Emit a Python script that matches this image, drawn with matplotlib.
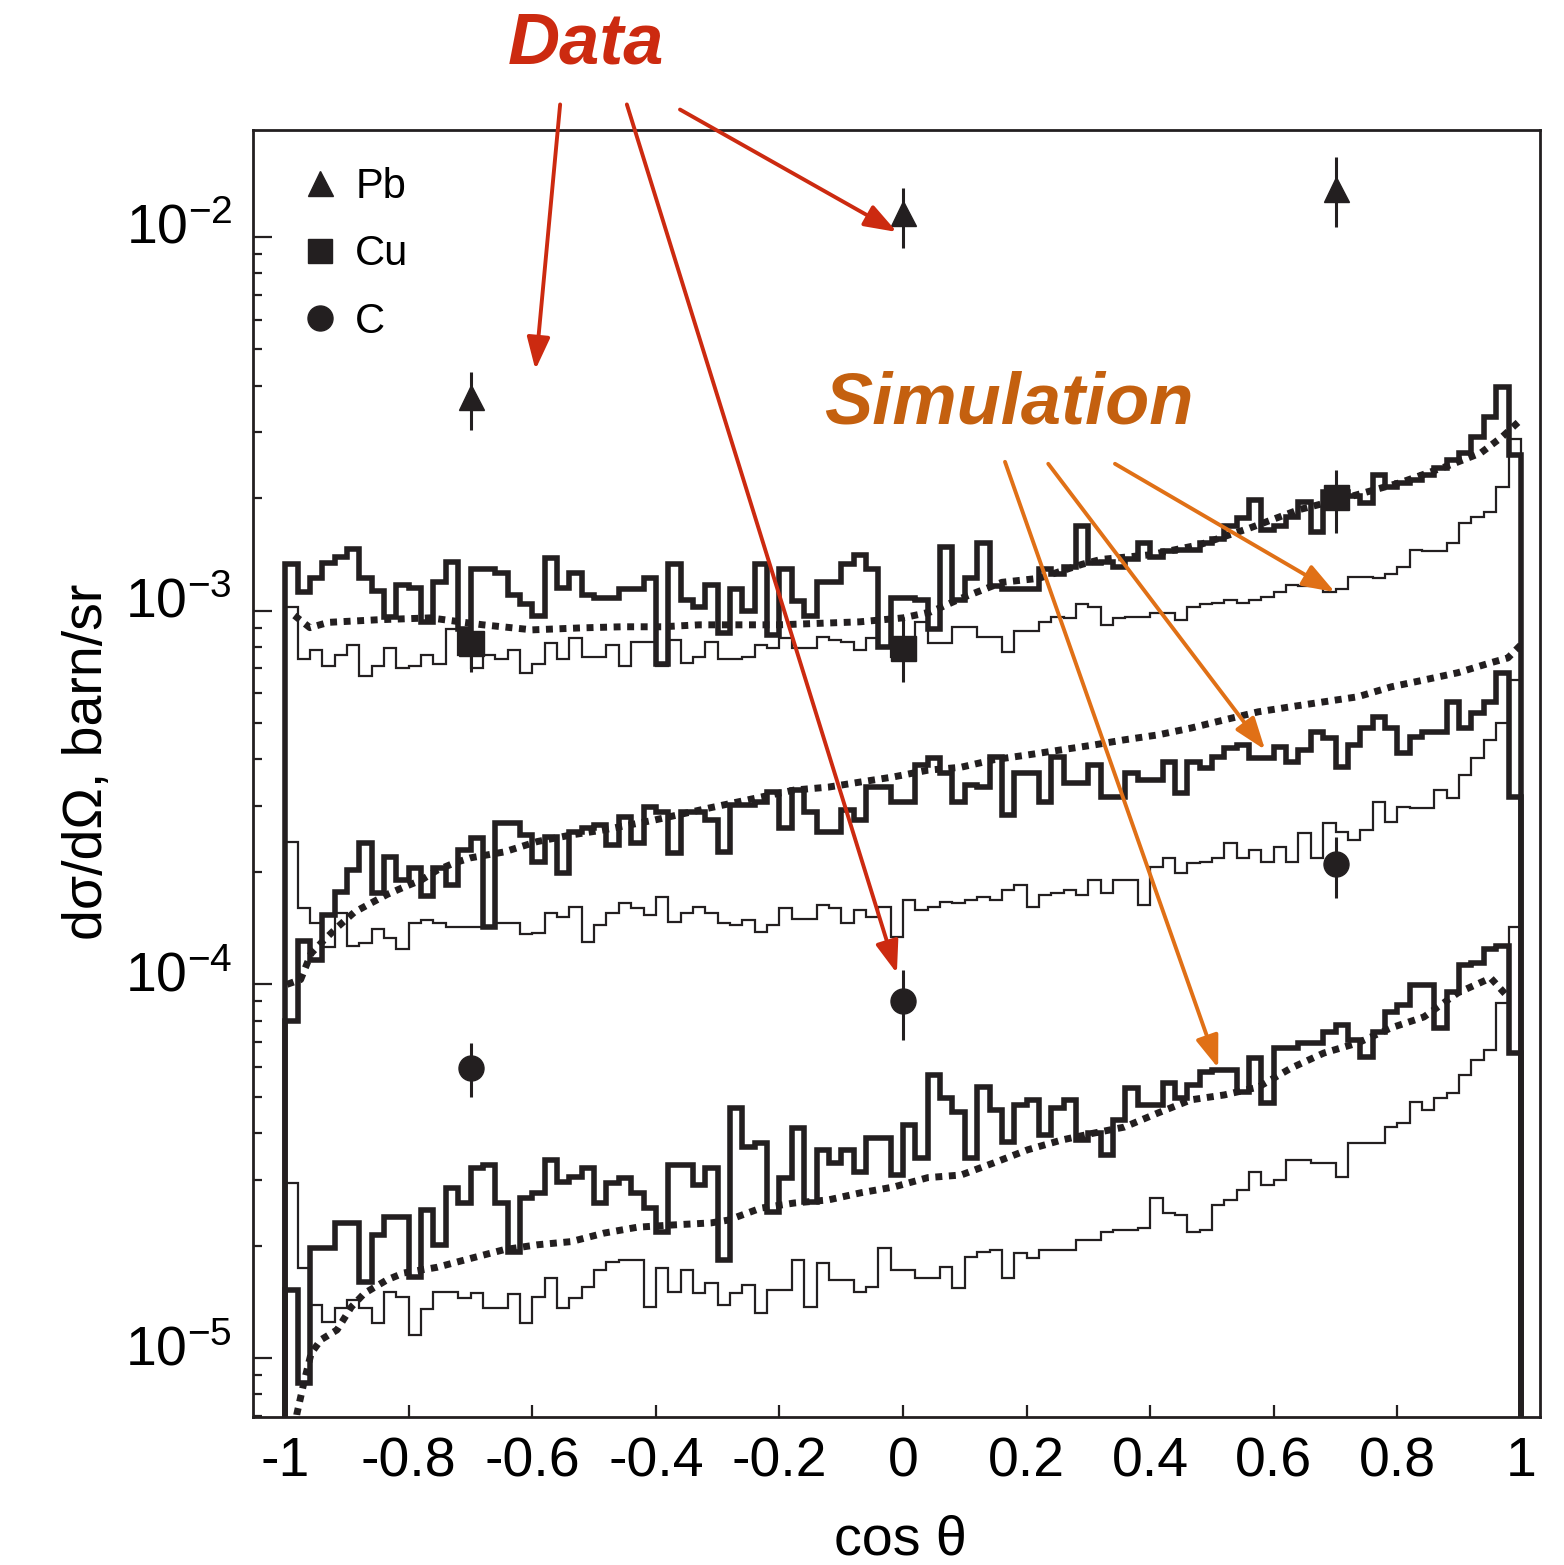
import numpy as np
import matplotlib
matplotlib.use('Agg')
import matplotlib.pyplot as plt
import matplotlib.transforms as mtransforms
from matplotlib.lines import Line2D
from matplotlib.ticker import FixedLocator, FixedFormatter, LogLocator, NullFormatter

plt.rcParams['font.family'] = ['Liberation Sans', 'DejaVu Sans']
plt.rcParams['mathtext.fontset'] = 'custom'
plt.rcParams['mathtext.rm'] = 'Liberation Sans'
plt.rcParams['mathtext.it'] = 'Liberation Sans:italic'
plt.rcParams['mathtext.bf'] = 'Liberation Sans:bold'

INK = '#231f20'
RED = '#cc2a10'
ORANGE = '#e07016'
ORANGE_TXT = '#c4600f'

# histogram binning in cos(theta): 100 bins of 0.02
bin_edges = np.round(np.arange(-1.0, 1.0001, 0.02), 2)

# Pb, thick histogram (units of 1e-3 barn/sr)
pb_thick = [1.33, 1.12, 1.22, 1.34, 1.39, 1.46, 1.22, 1.13, 0.96, 1.17,
            1.15, 0.93, 1.19, 1.35, 0.89, 1.29, 1.29, 1.26, 1.10, 1.04,
            0.97, 1.38, 1.15, 1.26, 1.10, 1.08, 1.08, 1.14, 1.14, 1.22,
            0.72, 1.33, 1.07, 1.02, 1.17, 0.87, 1.14, 1.00, 1.33, 0.86,
            1.29, 1.06, 0.97, 1.19, 1.19, 1.33, 1.41, 1.29, 0.80, 1.08,
            1.08, 1.07, 0.89, 1.48, 1.07, 1.22, 1.52, 1.16, 1.14, 1.14,
            1.14, 1.29, 1.25, 1.31, 1.68, 1.34, 1.35, 1.31, 1.37, 1.52,
            1.39, 1.44, 1.45, 1.45, 1.52, 1.55, 1.68, 1.77, 1.98, 1.64,
            1.68, 1.78, 1.95, 1.62, 2.07, 2.07, 2.02, 1.94, 2.31, 2.14,
            2.20, 2.24, 2.31, 2.41, 2.53, 2.64, 2.92, 3.30, 3.97, 2.61]
# Pb, thin histogram (1e-3)
pb_thin = [1.02, 0.74, 0.785, 0.71, 0.76, 0.81, 0.67, 0.71, 0.795, 0.70,
           0.71, 0.76, 0.72, 0.89, 0.76, 0.70, 0.76, 0.74, 0.785, 0.68,
           0.72, 0.82, 0.74, 0.845, 0.75, 0.75, 0.81, 0.71, 0.825, 0.825,
           0.71, 0.835, 0.725, 0.75, 0.825, 0.74, 0.74, 0.75, 0.81, 0.795,
           0.845, 0.795, 0.795, 0.85, 0.835, 0.825, 0.785, 0.845, 0.80, 0.75,
           0.75, 0.93, 0.82, 0.82, 0.905, 0.905, 0.85, 0.85, 0.775, 0.88,
           0.88, 0.93, 0.96, 0.955, 1.04, 1.02, 0.915, 0.955, 0.96, 0.96,
           0.985, 0.985, 0.945, 1.02, 1.04, 1.05, 1.07, 1.05, 1.07, 1.09,
           1.12, 1.17, 1.16, 1.16, 1.12, 1.14, 1.23, 1.23, 1.22, 1.25,
           1.31, 1.45, 1.44, 1.44, 1.52, 1.72, 1.78, 1.83, 2.14, 2.87]

# Cu, thick histogram (1e-4)
cu_thick = [0.80, 1.31, 1.16, 1.53, 1.77, 2.02, 2.39, 1.76, 2.19, 1.90,
            2.05, 1.72, 2.05, 1.84, 2.29, 2.47, 1.42, 2.70, 2.70, 2.51,
            2.13, 2.48, 1.99, 2.56, 2.62, 2.67, 2.36, 2.81, 2.39, 2.98,
            2.89, 2.25, 2.89, 2.89, 2.75, 2.26, 3.02, 3.02, 3.08, 3.27,
            2.62, 3.31, 2.89, 2.56, 2.56, 2.93, 2.75, 3.37, 3.37, 3.08,
            3.08, 3.86, 4.03, 3.68, 3.08, 3.42, 3.37, 4.06, 2.84, 3.68,
            3.68, 3.08, 4.06, 3.46, 3.46, 3.86, 3.17, 3.17, 3.68, 3.52,
            3.52, 3.93, 3.25, 3.93, 3.79, 4.06, 4.29, 4.37, 4.03, 4.03,
            4.32, 3.93, 4.24, 4.74, 4.56, 3.81, 4.37, 4.85, 5.20, 4.85,
            4.16, 4.59, 4.74, 4.74, 5.70, 4.85, 5.32, 5.70, 6.82, 3.17]
# Cu, thin histogram (1e-4)
cu_thin = [2.41, 1.60, 1.46, 1.26, 1.55, 1.27, 1.29, 1.41, 1.33, 1.24,
           1.46, 1.49, 1.46, 1.42, 1.42, 1.42, 1.42, 1.46, 1.46, 1.36,
           1.37, 1.55, 1.51, 1.61, 1.30, 1.44, 1.55, 1.65, 1.60, 1.53,
           1.71, 1.47, 1.55, 1.61, 1.55, 1.46, 1.44, 1.49, 1.38, 1.44,
           1.60, 1.50, 1.50, 1.63, 1.60, 1.46, 1.58, 1.51, 1.61, 1.34,
           1.68, 1.58, 1.61, 1.66, 1.65, 1.68, 1.71, 1.68, 1.79, 1.84,
           1.61, 1.73, 1.76, 1.79, 1.73, 1.90, 1.76, 1.90, 1.90, 1.63,
           2.06, 2.18, 1.99, 2.11, 2.13, 2.18, 2.39, 2.18, 2.29, 2.13,
           2.33, 2.13, 2.54, 2.18, 2.70, 2.56, 2.44, 2.59, 3.08, 2.72,
           2.98, 2.97, 2.97, 3.31, 3.15, 3.63, 4.03, 4.51, 5.00, 6.52]

# C, thick histogram (1e-5)
c_thick = [1.52, 0.86, 1.97, 1.97, 2.30, 2.30, 1.60, 2.14, 2.39, 2.39,
           1.65, 2.49, 2.01, 2.85, 2.60, 3.23, 3.29, 2.60, 1.92, 2.68,
           2.77, 3.39, 2.96, 3.05, 3.23, 2.60, 2.94, 3.04, 2.77, 2.52,
           2.18, 3.29, 3.29, 2.91, 3.23, 1.83, 4.67, 3.67, 3.76, 2.46,
           3.04, 4.13, 2.62, 3.61, 3.33, 3.61, 3.15, 3.88, 3.88, 3.09,
           4.21, 3.43, 5.72, 4.97, 4.56, 3.43, 5.31, 4.61, 3.79, 4.76,
           4.91, 3.95, 4.67, 4.91, 3.83, 4.00, 3.50, 4.34, 5.28, 4.76,
           4.76, 5.45, 4.97, 5.38, 5.83, 5.90, 5.90, 5.15, 6.36, 4.82,
           6.76, 6.76, 6.97, 6.97, 7.46, 7.79, 7.10, 6.39, 7.46, 8.44,
           8.81, 9.96, 9.96, 7.65, 9.54, 11.3, 11.4, 12.4, 12.7, 6.55]
# C, thin histogram (1e-5)
c_thin = [2.94, 1.74, 1.39, 1.25, 1.36, 1.43, 1.36, 1.24, 1.50, 1.46,
          1.15, 1.35, 1.50, 1.50, 1.45, 1.49, 1.36, 1.36, 1.48, 1.24,
          1.46, 1.64, 1.36, 1.45, 1.55, 1.72, 1.81, 1.83, 1.83, 1.37,
          1.74, 1.50, 1.72, 1.49, 1.59, 1.39, 1.49, 1.57, 1.32, 1.52,
          1.52, 1.83, 1.37, 1.80, 1.62, 1.62, 1.50, 1.55, 1.97, 1.72,
          1.72, 1.64, 1.64, 1.75, 1.54, 1.87, 1.92, 1.95, 1.64, 1.91,
          1.85, 1.95, 1.95, 1.95, 2.07, 2.07, 2.18, 2.20, 2.20, 2.23,
          2.68, 2.45, 2.42, 2.18, 2.20, 2.57, 2.65, 2.82, 3.15, 2.91,
          3.00, 3.39, 3.39, 3.33, 3.33, 3.05, 3.76, 3.76, 3.76, 4.15,
          4.26, 4.85, 4.61, 4.97, 5.12, 5.72, 6.28, 6.68, 8.92, 14.2]

# dotted smooth curves
pb_curve_x = [-0.985, -0.96, -0.93, -0.85, -0.765, -0.68, -0.60, -0.52, -0.455, -0.39,
              -0.33, -0.20, -0.07, 0.00, 0.045, 0.095, 0.16, 0.22, 0.29, 0.32,
              0.40, 0.48, 0.56, 0.64, 0.725, 0.805, 0.885, 0.935, 0.97, 1.00]
pb_curve_y = [0.97, 0.90, 0.93, 0.945, 0.956, 0.916, 0.888, 0.899, 0.905, 0.905,
              0.916, 0.916, 0.933, 0.956, 0.992, 1.08, 1.19, 1.22, 1.33, 1.37,
              1.41, 1.50, 1.66, 1.86, 2.02, 2.20, 2.45, 2.64, 2.92, 3.24]
cu_curve_x = [-0.997, -0.975, -0.958, -0.942, -0.916, -0.888, -0.861, -0.835, -0.808, -0.78,
              -0.754, -0.727, -0.70, -0.646, -0.592, -0.537, -0.484, -0.403, -0.311, -0.23,
              -0.176, -0.121, -0.068, -0.015, 0.04, 0.094, 0.147, 0.202, 0.256, 0.309,
              0.358, 0.413, 0.466, 0.52, 0.575, 0.628, 0.681, 0.736, 0.79, 0.843,
              0.898, 0.951, 0.979, 1.00]
cu_curve_y = [1.00, 1.03, 1.21, 1.29, 1.42, 1.56, 1.65, 1.74, 1.82, 1.90,
              2.02, 2.11, 2.18, 2.26, 2.41, 2.51, 2.59, 2.75, 2.97, 3.17,
              3.31, 3.37, 3.48, 3.59, 3.74, 3.81, 3.99, 4.11, 4.24, 4.37,
              4.51, 4.65, 4.85, 5.10, 5.36, 5.53, 5.70, 5.88, 6.25, 6.52,
              6.82, 7.25, 7.47, 8.10]
c_curve_x = [-0.99, -0.981, -0.969, -0.958, -0.942, -0.916, -0.893, -0.872, -0.835, -0.808,
             -0.754, -0.699, -0.646, -0.592, -0.537, -0.484, -0.43, -0.375, -0.311, -0.283,
             -0.23, -0.176, -0.121, -0.068, -0.015, 0.04, 0.094, 0.147, 0.202, 0.256,
             0.309, 0.358, 0.413, 0.466, 0.52, 0.575, 0.628, 0.681, 0.736, 0.79,
             0.843, 0.898, 0.951, 0.976]
c_curve_y = [0.55, 0.71, 0.87, 1.03, 1.12, 1.19, 1.37, 1.49, 1.62, 1.69,
             1.75, 1.85, 1.95, 2.01, 2.05, 2.16, 2.24, 2.27, 2.30, 2.34,
             2.52, 2.60, 2.65, 2.77, 2.87, 3.04, 3.09, 3.33, 3.61, 3.83,
             4.00, 4.15, 4.53, 4.91, 5.06, 5.31, 5.97, 6.55, 6.97, 7.65,
             8.18, 9.49, 10.4, 9.37]

# measured points
data_cos = [-0.7, 0.0, 0.7]
pb_val = [3.73e-3, 1.16e-2, 1.34e-2]
pb_lo = [3.05e-3, 9.35e-3, 1.06e-2]
pb_hi = [4.36e-3, 1.35e-2, 1.63e-2]
cu_val = [8.19e-4, 7.95e-4, 2.01e-3]
cu_lo = [6.85e-4, 6.45e-4, 1.61e-3]
cu_hi = [9.33e-4, 9.62e-4, 2.38e-3]
c_val = [5.97e-5, 9.03e-5, 2.10e-4]
c_lo = [4.99e-5, 7.10e-5, 1.70e-4]
c_hi = [6.97e-5, 1.093e-4, 2.48e-4]

x_ticks = [-1, -0.8, -0.6, -0.4, -0.2, 0, 0.2, 0.4, 0.6, 0.8, 1]
x_tick_labels = ['-1', '-0.8', '-0.6', '-0.4', '-0.2', '0', '0.2', '0.4', '0.6', '0.8', '1']
y_ticks = [1e-5, 1e-4, 1e-3, 1e-2]
y_tick_labels = [r'$10^{-5}$', r'$10^{-4}$', r'$10^{-3}$', r'$10^{-2}$']

fig = plt.figure(figsize=(15.64, 15.65), dpi=100)
ax = fig.add_axes([0.1618, 0.0946, 0.8229, 0.8224])
ax.set_yscale('log')

sets = [(pb_thin, pb_thick, 1e-3), (cu_thin, cu_thick, 1e-4), (c_thin, c_thick, 1e-5)]
for thin, thick, scale in sets:
    ax.stairs(np.array(thin) * scale, bin_edges, baseline=1e-9, color=INK, lw=1.6, zorder=2)
for thin, thick, scale in sets:
    ax.stairs(np.array(thick) * scale, bin_edges, baseline=1e-9, color=INK, lw=4.0, zorder=3)

dot = (0, (1.0, 0.95))
ax.plot(pb_curve_x, np.array(pb_curve_y) * 1e-3, color=INK, lw=5.0, ls=dot, zorder=4)
ax.plot(cu_curve_x, np.array(cu_curve_y) * 1e-4, color=INK, lw=5.0, ls=dot, zorder=4)
ax.plot(c_curve_x, np.array(c_curve_y) * 1e-5, color=INK, lw=5.0, ls=dot, zorder=4)

for val, lo, hi, mk in [(pb_val, pb_lo, pb_hi, '^'), (cu_val, cu_lo, cu_hi, 's'),
                        (c_val, c_lo, c_hi, 'o')]:
    val = np.array(val)
    yerr = [val - np.array(lo), np.array(hi) - val]
    ax.errorbar(data_cos, val, yerr=yerr, fmt=mk, color=INK, ms=18, elinewidth=2.2,
                capsize=0, zorder=6)

ax.set_xlim(-1.052, 1.031)
ax.set_ylim(6.96e-6, 1.932e-2)

ax.xaxis.set_major_locator(FixedLocator(x_ticks))
ax.xaxis.set_major_formatter(FixedFormatter(x_tick_labels))
ax.yaxis.set_major_locator(FixedLocator(y_ticks))
ax.yaxis.set_major_formatter(FixedFormatter(y_tick_labels))
ax.yaxis.set_minor_locator(LogLocator(base=10, subs=range(2, 10), numticks=20))
ax.yaxis.set_minor_formatter(NullFormatter())
ax.tick_params(which='both', direction='in', top=False, right=False, width=1.6, color=INK)
ax.tick_params(axis='y', which='major', length=14, pad=15, labelsize=40)
ax.tick_params(axis='y', which='minor', length=6.5)
ax.tick_params(axis='x', which='major', length=9, pad=14, labelsize=40)
for sp in ax.spines.values():
    sp.set_linewidth(2.0)
    sp.set_color(INK)

# the exponent labels sit a little above their ticks in the original
lift = mtransforms.ScaledTranslation(0, 13 / 100, fig.dpi_scale_trans)
for lab in ax.get_yticklabels():
    lab.set_transform(lab.get_transform() + lift)

ax.set_xlabel('cos θ', fontsize=40)
ax.xaxis.set_label_coords(0.5027, -0.0755)
ax.set_ylabel('dσ/dΩ, barn/sr', fontsize=40)
ax.yaxis.set_label_coords(-0.108, 0.509)

handles = [Line2D([], [], marker='^', ls='none', color=INK, ms=18, label='Pb'),
           Line2D([], [], marker='s', ls='none', color=INK, ms=17, label='Cu'),
           Line2D([], [], marker='o', ls='none', color=INK, ms=18, label='C')]
ax.legend(handles=handles, loc='upper left', bbox_to_anchor=(0.0357, 0.9713), frameon=False,
          fontsize=30, borderpad=0, borderaxespad=0, handlelength=1.0, handletextpad=0.35,
          labelspacing=0.66)

ax.text(-0.513, 3.27e-2, 'Data', color=RED, fontsize=52, fontweight='bold', fontstyle='italic',
        ha='center', va='center', clip_on=False)
ax.text(0.1715, 3.55e-3, 'Simulation', color=ORANGE_TXT, fontsize=52, fontweight='bold',
        fontstyle='italic', ha='center', va='center', clip_on=False, zorder=7)

arrow_red = dict(arrowstyle='-|>,head_length=1.4,head_width=0.5', color=RED, lw=2.8,
                 mutation_scale=14, shrinkA=0, shrinkB=0)
arrow_orange = dict(arrowstyle='-|>,head_length=1.4,head_width=0.5', color=ORANGE, lw=2.8,
                    mutation_scale=14, shrinkA=0, shrinkB=0)
data_arrows = [((-0.555, 2.26e-2), (-0.595, 4.41e-3)),
               ((-0.447, 2.26e-2), (-0.010, 1.07e-4)),
               ((-0.361, 2.19e-2), (-0.010, 1.03e-2))]
sim_arrows = [((0.165, 2.50e-3), (0.510, 5.97e-5)),
              ((0.235, 2.47e-3), (0.586, 4.24e-4)),
              ((0.343, 2.47e-3), (0.699, 1.12e-3))]
for tail, head in data_arrows:
    ax.annotate('', xy=head, xytext=tail, arrowprops=arrow_red, annotation_clip=False, zorder=8)
for tail, head in sim_arrows:
    ax.annotate('', xy=head, xytext=tail, arrowprops=arrow_orange, annotation_clip=False, zorder=8)

fig.savefig('out.png', dpi=100)
